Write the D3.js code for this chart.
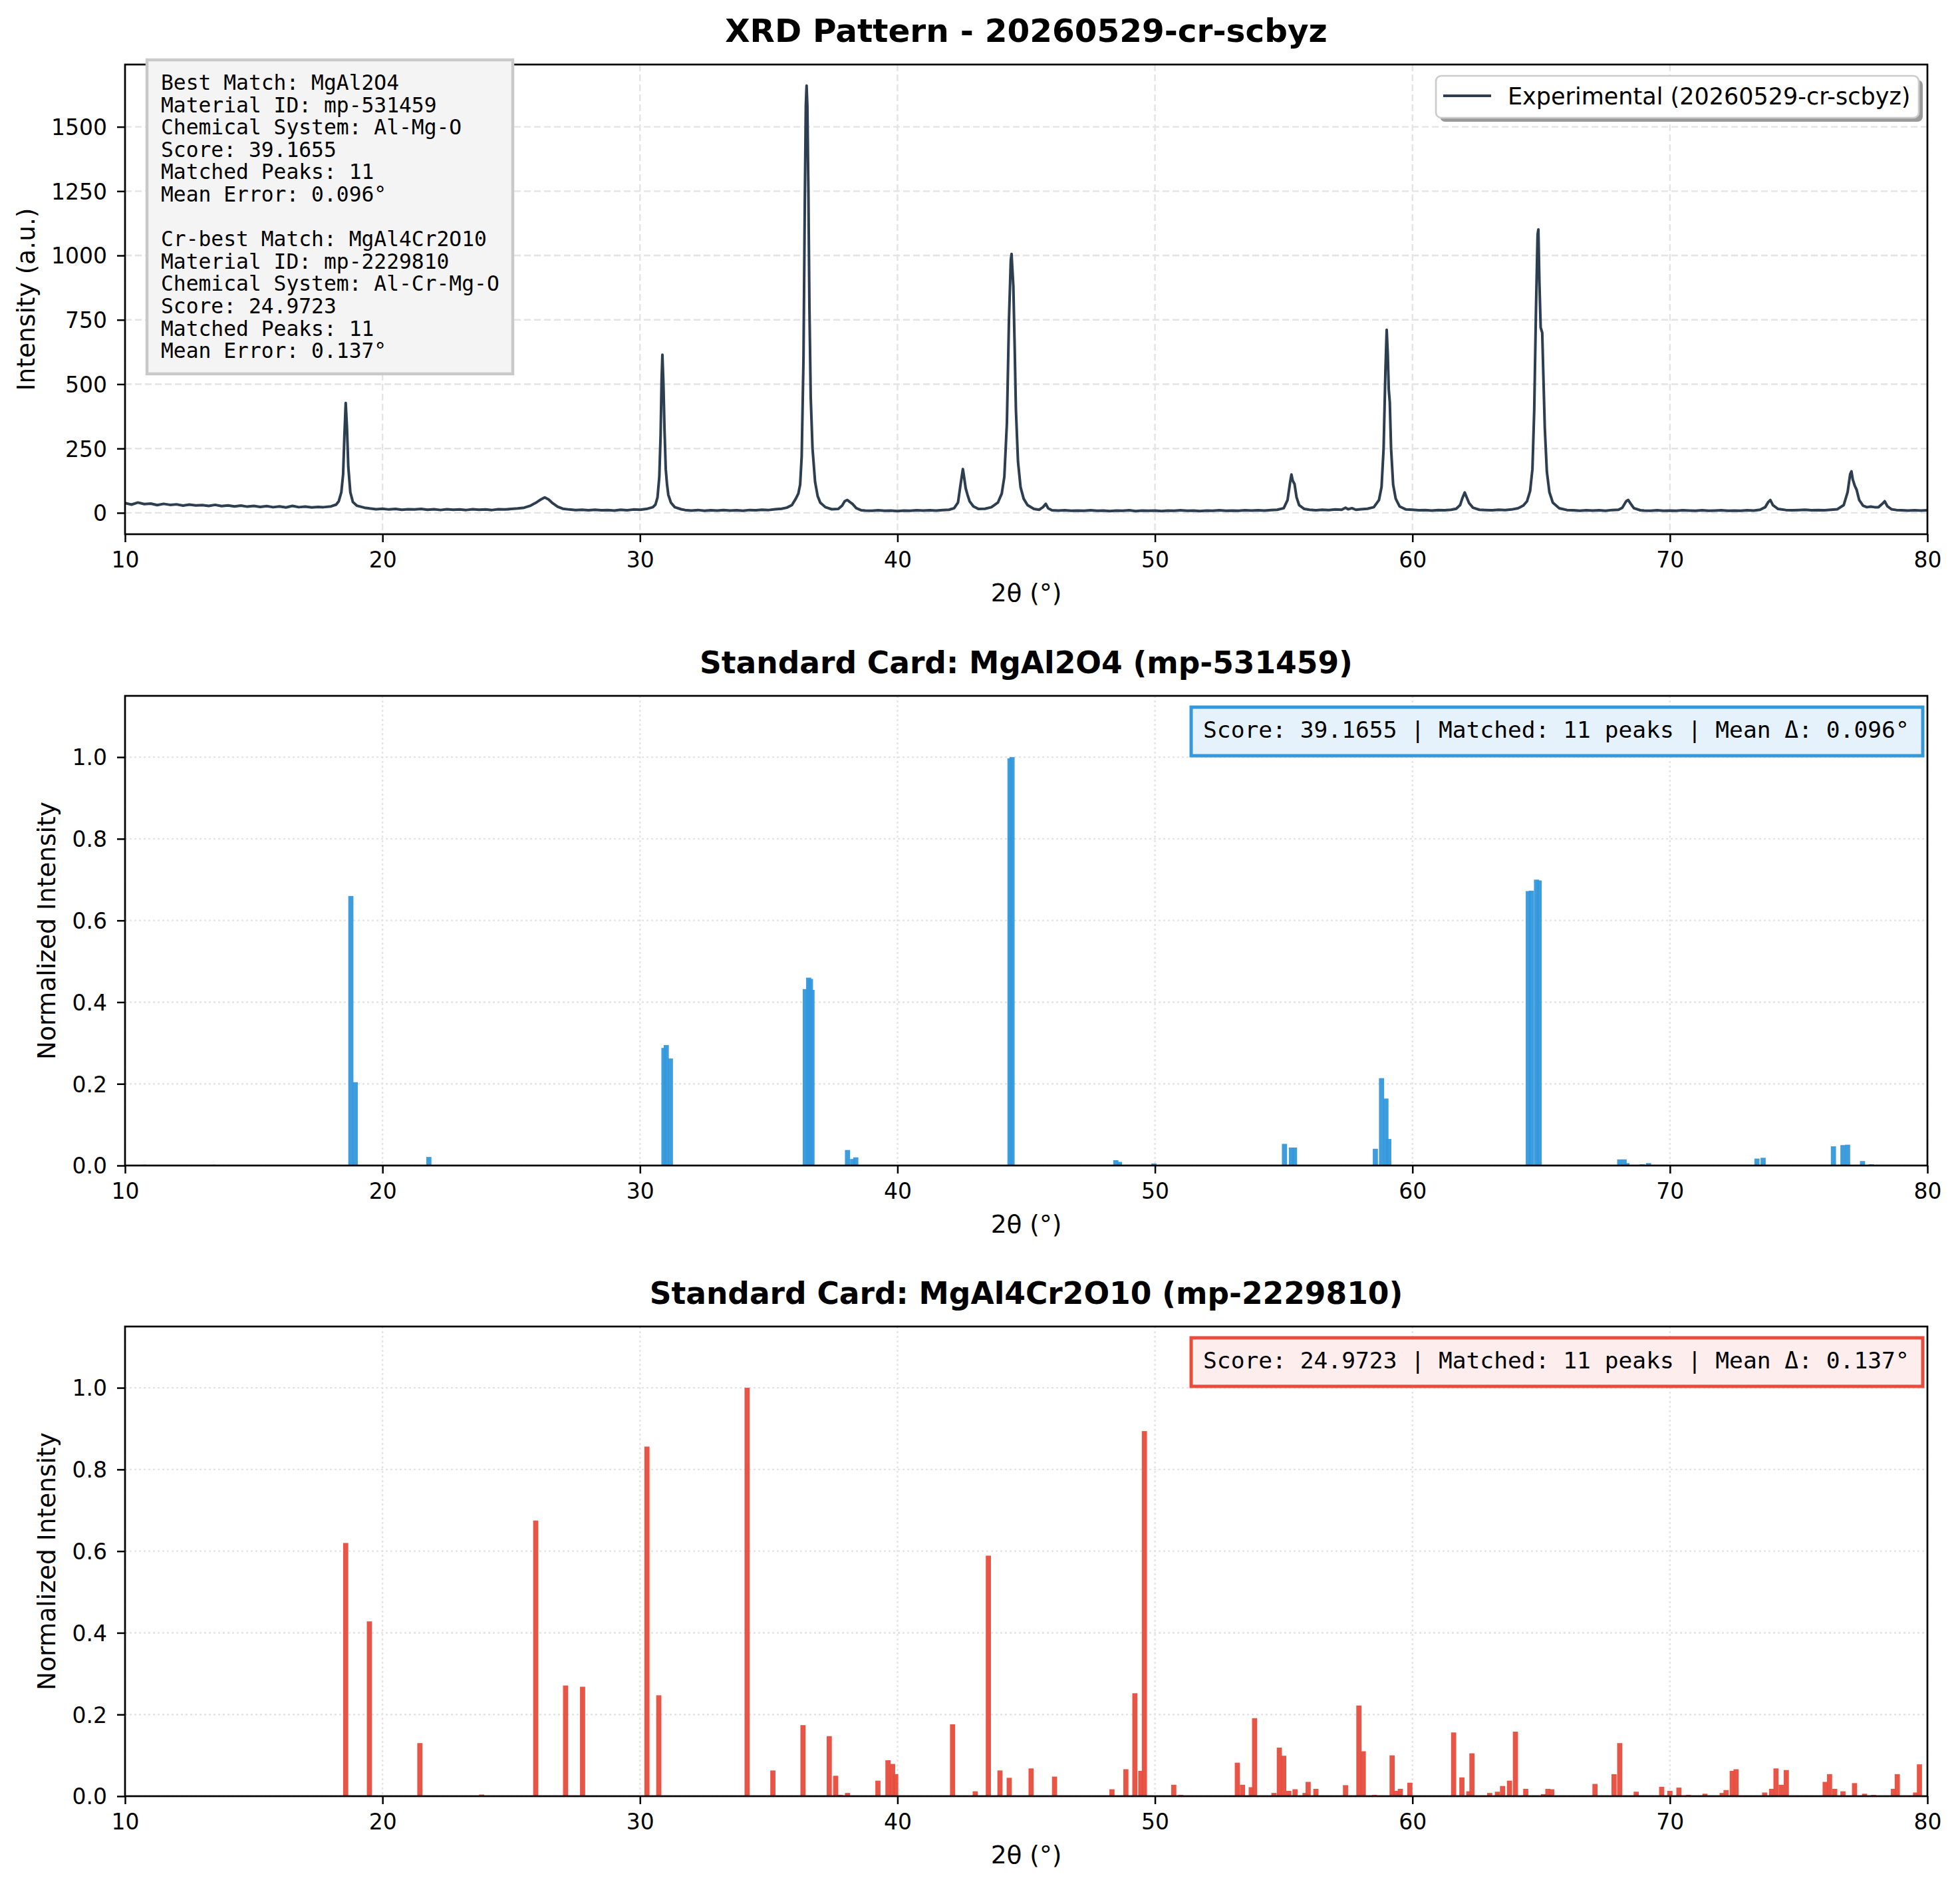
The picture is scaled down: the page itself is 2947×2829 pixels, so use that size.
<!DOCTYPE html>
<html>
<head>
<meta charset="utf-8">
<script src="https://d3js.org/d3.v7.min.js"></script>
<style>
  body { margin: 0; background: #fff; }
</style>
</head>
<body>
<script>
// ---- data ----
// experimental pattern: [2theta, intensity]
var expPattern = [
  [10.0,38],[10.25,32],[10.5,40],[10.75,34],[11.0,36],[11.25,30],[11.5,35],[11.75,31],[12.0,33],[12.25,28],
  [12.5,32],[12.75,29],[13.0,30],[13.25,27],[13.5,31],[13.75,26],[14.0,29],[14.25,25],[14.5,28],[14.75,24],
  [15.0,27],[15.25,23],[15.5,26],[15.75,22],[16.0,25],[16.25,21],[16.5,27],[16.75,22],[17.0,24],[17.25,21],
  [17.5,23],[17.7,22],[18.0,25],[18.2,32],[18.3,45],[18.4,80],[18.47,150],[18.52,300],[18.57,427],[18.62,330],
  [18.67,180],[18.75,80],[18.85,42],[19.0,28],[19.3,20],[19.5,17],[19.75,14],[20.0,16],[20.25,13],[20.5,15],
  [20.75,12],[21.0,14],[21.25,13],[21.5,15],[21.75,12],[22.0,14],[22.25,11],[22.5,14],[22.75,12],[23.0,13],
  [23.25,11],[23.5,14],[23.75,12],[24.0,13],[24.25,11],[24.5,14],[24.75,13],[25.0,15],[25.25,17],[25.5,20],
  [25.75,28],[26.0,42],[26.15,52],[26.3,60],[26.45,52],[26.6,38],[26.8,24],[27.0,16],[27.25,13],[27.5,11],
  [27.75,12],[28.0,10],[28.25,12],[28.5,10],[28.75,11],[29.0,9],[29.25,12],[29.5,10],[29.75,13],[30.0,12],
  [30.25,15],[30.5,22],[30.6,32],[30.68,60],[30.75,140],[30.8,300],[30.84,520],[30.87,614],[30.91,500],[30.95,330],
  [31.0,170],[31.05,110],[31.1,70],[31.2,40],[31.35,22],[31.6,14],[31.75,11],[32.0,9],[32.25,11],[32.5,8],
  [32.75,10],[33.0,9],[33.25,11],[33.5,9],[33.75,10],[34.0,8],[34.25,11],[34.5,10],[34.75,12],[35.0,11],
  [35.25,14],[35.5,16],[35.7,20],[35.9,30],[36.05,55],[36.15,75],[36.22,110],[36.28,220],[36.35,600],[36.4,1200],
  [36.44,1580],[36.47,1660],[36.5,1580],[36.54,1250],[36.58,800],[36.63,450],[36.7,250],[36.8,120],[36.9,65],[37.0,40],
  [37.2,22],[37.45,14],[37.7,15],[37.85,28],[37.95,45],[38.05,50],[38.15,42],[38.25,35],[38.4,18],[38.6,10],
  [38.75,9],[39.0,8],[39.25,10],[39.5,8],[39.75,9],[40.0,7],[40.25,9],[40.5,8],[40.75,10],[41.0,9],
  [41.25,10],[41.5,9],[41.75,11],[42.0,12],[42.2,18],[42.35,40],[42.45,110],[42.54,170],[42.6,130],[42.65,95],
  [42.72,70],[42.8,45],[42.95,25],[43.15,15],[43.4,16],[43.65,22],[43.9,40],[44.05,75],[44.15,140],[44.25,350],
  [44.33,750],[44.4,980],[44.43,1006],[44.46,950],[44.5,880],[44.55,650],[44.6,400],[44.68,200],[44.78,100],[44.9,55],
  [45.05,30],[45.3,15],[45.5,12],[45.65,22],[45.76,35],[45.85,18],[46.0,10],[46.25,9],[46.5,10],[46.75,8],
  [47.0,9],[47.25,8],[47.5,10],[47.75,8],[48.0,9],[48.25,7],[48.5,9],[48.75,8],[49.0,10],[49.25,7],
  [49.5,9],[49.75,8],[50.0,9],[50.25,7],[50.5,9],[50.75,8],[51.0,10],[51.25,8],[51.5,9],[51.75,7],
  [52.0,9],[52.25,8],[52.5,10],[52.75,8],[53.0,9],[53.25,8],[53.5,10],[53.75,9],[54.0,10],[54.25,9],
  [54.5,11],[54.75,12],[55.0,18],[55.15,50],[55.25,120],[55.3,149],[55.35,125],[55.42,112],[55.5,60],[55.6,30],
  [55.8,15],[56.0,12],[56.25,10],[56.5,12],[56.75,11],[57.0,13],[57.25,12],[57.4,20],[57.5,14],[57.65,18],
  [57.8,12],[58.0,14],[58.25,16],[58.5,22],[58.7,50],[58.8,100],[58.88,250],[58.95,550],[59.0,711],[59.04,620],
  [59.08,480],[59.12,430],[59.17,250],[59.25,110],[59.35,55],[59.5,25],[59.75,13],[60.0,12],[60.25,10],[60.5,11],
  [60.75,9],[61.0,11],[61.25,10],[61.5,12],[61.7,16],[61.85,30],[61.95,60],[62.03,79],[62.1,62],[62.2,38],
  [62.35,20],[62.6,12],[62.85,11],[63.1,10],[63.35,12],[63.6,11],[63.85,13],[64.1,18],[64.3,28],[64.45,45],
  [64.57,85],[64.66,170],[64.73,400],[64.8,800],[64.86,1080],[64.89,1101],[64.93,900],[64.98,720],[65.04,700],[65.08,550],
  [65.14,330],[65.22,160],[65.32,80],[65.45,40],[65.7,18],[66.0,11],[66.25,10],[66.5,8],[66.75,10],[67.0,9],
  [67.25,10],[67.5,8],[67.75,11],[68.0,12],[68.15,20],[68.3,45],[68.38,50],[68.48,35],[68.6,18],[68.85,10],
  [69.0,9],[69.25,8],[69.5,10],[69.75,8],[70.0,9],[70.25,8],[70.5,10],[70.75,9],[71.0,8],[71.25,10],
  [71.5,8],[71.75,9],[72.0,10],[72.25,8],[72.5,9],[72.75,8],[73.0,10],[73.25,9],[73.5,12],[73.7,22],
  [73.82,42],[73.9,50],[74.0,30],[74.2,15],[74.5,11],[74.75,10],[75.0,11],[75.25,12],[75.5,10],[75.75,11],
  [76.0,10],[76.25,12],[76.5,14],[76.75,30],[76.9,80],[77.0,150],[77.05,161],[77.1,130],[77.18,105],[77.25,90],
  [77.35,50],[77.5,28],[77.65,22],[77.8,24],[77.95,22],[78.1,22],[78.25,35],[78.34,45],[78.45,25],[78.6,14],
  [78.8,11],[79.0,10],[79.25,9],[79.5,10],[79.75,9],[80.0,10]
];
var expLabel = "Experimental (20260529-cr-scbyz)";

// standard card MgAl2O4 (mp-531459): [2theta, normalized intensity]
var spinelPeaks = [
  [10.73,0.002],[13.43,0.002],[18.77,0.66],[18.94,0.204],[21.80,0.021],[30.93,0.288],[31.02,0.295],[31.18,0.262],
  [36.42,0.432],[36.55,0.460],[36.62,0.457],[36.68,0.430],[38.06,0.038],[38.26,0.016],[38.38,0.020],[44.37,0.997],
  [44.45,1.0],[48.48,0.013],[48.62,0.009],[49.96,0.005],[55.03,0.053],[55.30,0.044],[55.42,0.044],[58.56,0.041],
  [58.80,0.214],[58.97,0.164],[59.08,0.065],[64.50,0.672],[64.62,0.673],[64.82,0.700],[64.92,0.698],[68.05,0.015],
  [68.22,0.015],[68.33,0.006],[68.92,0.003],[69.17,0.006],[73.38,0.017],[73.62,0.019],[76.35,0.047],[76.72,0.050],
  [76.90,0.051],[77.48,0.011],[77.82,0.003]
];

// standard card MgAl4Cr2O10 (mp-2229810)
var chromitePeaks = [
  [18.57,0.620],[19.49,0.428],[21.45,0.130],[23.85,0.004],[25.95,0.675],[27.11,0.271],[27.77,0.268],[30.27,0.856],
  [30.73,0.247],[34.16,1.0],[35.16,0.063],[36.33,0.174],[37.35,0.147],[37.6,0.050],[37.78,0.003],[38.06,0.008],
  [39.24,0.038],[39.63,0.088],[39.81,0.079],[39.93,0.054],[42.14,0.176],[43.02,0.012],[43.53,0.589],[43.98,0.063],
  [44.34,0.045],[45.19,0.068],[46.10,0.048],[48.33,0.017],[48.87,0.066],[49.22,0.252],[49.45,0.062],[49.59,0.894],
  [50.73,0.028],[51.0,0.003],[53.20,0.082],[53.40,0.028],[53.74,0.022],[53.87,0.191],[54.62,0.008],[54.83,0.119],
  [55.0,0.099],[55.2,0.013],[55.44,0.017],[55.83,0.008],[55.95,0.035],[56.25,0.018],[57.40,0.027],[57.92,0.222],
  [58.09,0.110],[58.53,0.003],[59.21,0.100],[59.36,0.013],[59.53,0.018],[59.90,0.033],[61.60,0.156],[61.92,0.046],
  [62.19,0.012],[62.31,0.105],[63.0,0.008],[63.3,0.011],[63.5,0.025],[63.77,0.038],[64.0,0.158],[64.4,0.018],
  [65.09,0.005],[65.26,0.018],[65.41,0.017],[67.09,0.030],[67.83,0.054],[68.05,0.130],[68.69,0.011],[69.68,0.023],
  [70.0,0.013],[70.35,0.021],[70.72,0.003],[71.36,0.006],[72.03,0.008],[72.18,0.015],[72.42,0.062],[72.57,0.066],
  [73.68,0.009],[73.95,0.018],[74.12,0.068],[74.32,0.028],[74.52,0.064],[76.03,0.035],[76.2,0.054],[76.40,0.018],
  [76.72,0.012],[77.17,0.032],[77.56,0.006],[77.91,0.003],[78.68,0.018],[78.83,0.054],[79.54,0.009],[79.69,0.078]
];

var xTicks = [10, 20, 30, 40, 50, 60, 70, 80];
var expYTicks = [0, 250, 500, 750, 1000, 1250, 1500];
var cardYTicks = [0, 0.2, 0.4, 0.6, 0.8, 1.0];

var infoLines = [
  "Best Match: MgAl2O4",
  "Material ID: mp-531459",
  "Chemical System: Al-Mg-O",
  "Score: 39.1655",
  "Matched Peaks: 11",
  "Mean Error: 0.096°",
  "",
  "Cr-best Match: MgAl4Cr2O10",
  "Material ID: mp-2229810",
  "Chemical System: Al-Cr-Mg-O",
  "Score: 24.9723",
  "Matched Peaks: 11",
  "Mean Error: 0.137°"
];
var spinelNote = "Score: 39.1655 | Matched: 11 peaks | Mean Δ: 0.096°";
var chromiteNote = "Score: 24.9723 | Matched: 11 peaks | Mean Δ: 0.137°";

// ---- layout ----
var W = 2947, H = 2829;
var L = 188, R = 2898, PH = 706;
var tops = [97, 1046, 1994];
var SANS = "'DejaVu Sans', sans-serif";
var MONO = "'DejaVu Sans Mono', monospace";
var barW = 0.2;

var svg = d3.select("body").append("svg").attr("width", W).attr("height", H);
svg.append("rect").attr("width", W).attr("height", H).attr("fill", "#fff");

var x = d3.scaleLinear().domain([10, 80]).range([L, R]);

function panel(i, yDomain, yTicks, fmt, dash, ylabel, labelX, title, titleSize) {
  var top = tops[i], bottom = top + PH;
  var y = d3.scaleLinear().domain(yDomain).range([bottom, top]);
  var g = svg.append("g");

  // grid
  g.selectAll(".gx").data(xTicks).enter().append("line")
    .attr("x1", d => x(d)).attr("x2", d => x(d)).attr("y1", top).attr("y2", bottom)
    .attr("stroke", "#e4e4e4").attr("stroke-width", 2.4).attr("stroke-dasharray", dash);
  g.selectAll(".gy").data(yTicks).enter().append("line")
    .attr("x1", L).attr("x2", R).attr("y1", d => y(d)).attr("y2", d => y(d))
    .attr("stroke", "#e4e4e4").attr("stroke-width", 2.4).attr("stroke-dasharray", dash);

  svg.append("clipPath").attr("id", "clip" + i)
    .append("rect").attr("x", L).attr("y", top).attr("width", R - L).attr("height", PH);
  var plot = svg.append("g").attr("clip-path", "url(#clip" + i + ")");

  // axes
  var xa = svg.append("g").attr("transform", "translate(0," + bottom + ")")
    .call(d3.axisBottom(x).tickValues(xTicks).tickSize(12).tickSizeOuter(0).tickFormat(d3.format("d")));
  xa.attr("font-size", 33).attr("font-family", SANS);
  xa.select(".domain").remove();
  xa.selectAll(".tick line").attr("stroke", "#000").attr("stroke-width", 2.5);
  xa.selectAll(".tick text").attr("y", 50).attr("dy", null).attr("fill", "#000");

  var ya = svg.append("g").attr("transform", "translate(" + L + ",0)")
    .call(d3.axisLeft(y).tickValues(yTicks).tickSize(12).tickSizeOuter(0).tickFormat(fmt));
  ya.attr("font-size", 33).attr("font-family", SANS);
  ya.select(".domain").remove();
  ya.selectAll(".tick line").attr("stroke", "#000").attr("stroke-width", 2.5);
  ya.selectAll(".tick text").attr("x", -27).attr("dy", "0.36em").attr("fill", "#000");

  // labels
  svg.append("text").attr("x", (L + R) / 2).attr("y", bottom + 101)
    .attr("text-anchor", "middle").attr("font-family", SANS).attr("font-size", 37.5)
    .text("2θ (°)");
  svg.append("text").attr("transform", "translate(" + labelX + "," + (top + PH / 2) + ") rotate(-90)")
    .attr("text-anchor", "middle").attr("font-family", SANS).attr("font-size", 37.5)
    .text(ylabel);
  svg.append("text").attr("x", (L + R) / 2).attr("y", top - 34)
    .attr("text-anchor", "middle").attr("font-family", SANS).attr("font-weight", "bold")
    .attr("font-size", titleSize).text(title);

  return { plot: plot, y: y, top: top, bottom: bottom };
}

function frame(p) {
  svg.append("rect").attr("x", L).attr("y", p.top).attr("width", R - L).attr("height", PH)
    .attr("fill", "none").attr("stroke", "#000").attr("stroke-width", 2.7);
}

// ---- panel 1: experimental pattern ----
var p1 = panel(0, [-83, 1742], expYTicks, d3.format("d"), "10,5", "Intensity (a.u.)", 52,
  "XRD Pattern - 20260529-cr-scbyz", 48.5);
var line = d3.line().x(d => x(d[0])).y(d => p1.y(d[1]));
p1.plot.append("path").datum(expPattern).attr("d", line)
  .attr("fill", "none").attr("stroke", "#2c3e50").attr("stroke-width", 4)
  .attr("stroke-linejoin", "round");
frame(p1);

// info box
svg.append("rect").attr("x", 221).attr("y", 90).attr("width", 550).attr("height", 472)
  .attr("fill", "#f4f4f4").attr("stroke", "#c9c9c9").attr("stroke-width", 4.5);
svg.append("g").selectAll("text").data(infoLines).enter().append("text")
  .attr("x", 242).attr("y", (d, i) => 135 + i * 33.6)
  .attr("font-family", MONO).attr("font-size", 31.3).attr("fill", "#000")
  .attr("xml:space", "preserve").text(d => d);

// legend
var lg = svg.append("g");
lg.append("rect").attr("x", 2165).attr("y", 120).attr("width", 726).attr("height", 63).attr("rx", 8)
  .attr("fill", "#9a9a9a");
lg.append("rect").attr("x", 2159).attr("y", 114).attr("width", 726).attr("height", 63).attr("rx", 8)
  .attr("fill", "#fff").attr("stroke", "#cccccc").attr("stroke-width", 2.7);
lg.append("line").attr("x1", 2170).attr("x2", 2242).attr("y1", 144).attr("y2", 144)
  .attr("stroke", "#2c3e50").attr("stroke-width", 4);
lg.append("text").attr("x", 2267).attr("y", 157).attr("font-family", SANS).attr("font-size", 35)
  .text(expLabel);

// ---- panels 2 and 3: standard cards ----
function card(i, peaks, color, fill, note, title) {
  var p = panel(i, [0, 1.15], cardYTicks, d3.format(".1f"), "3,4", "Normalized Intensity", 83, title, 45.5);
  p.plot.selectAll("rect.bar").data(peaks).enter().append("rect").attr("class", "bar")
    .attr("x", d => x(d[0] - barW / 2))
    .attr("width", d => x(d[0] + barW / 2) - x(d[0] - barW / 2))
    .attr("y", d => p.y(d[1]))
    .attr("height", d => p.y(0) - p.y(d[1]))
    .attr("fill", color).attr("fill-opacity", 0.95);
  frame(p);
  svg.append("rect").attr("x", 1791).attr("y", p.top + 17).attr("width", 1100).attr("height", 73)
    .attr("fill", fill).attr("stroke", color).attr("stroke-width", 5);
  svg.append("text").attr("x", 1809).attr("y", p.top + 63)
    .attr("font-family", MONO).attr("font-size", 34.6).attr("fill", "#000").text(note);
}

card(1, spinelPeaks, "#3498db", "#e6f2fb", spinelNote, "Standard Card: MgAl2O4 (mp-531459)");
card(2, chromitePeaks, "#e74c3c", "#fdedec", chromiteNote, "Standard Card: MgAl4Cr2O10 (mp-2229810)");
</script>
</body>
</html>
